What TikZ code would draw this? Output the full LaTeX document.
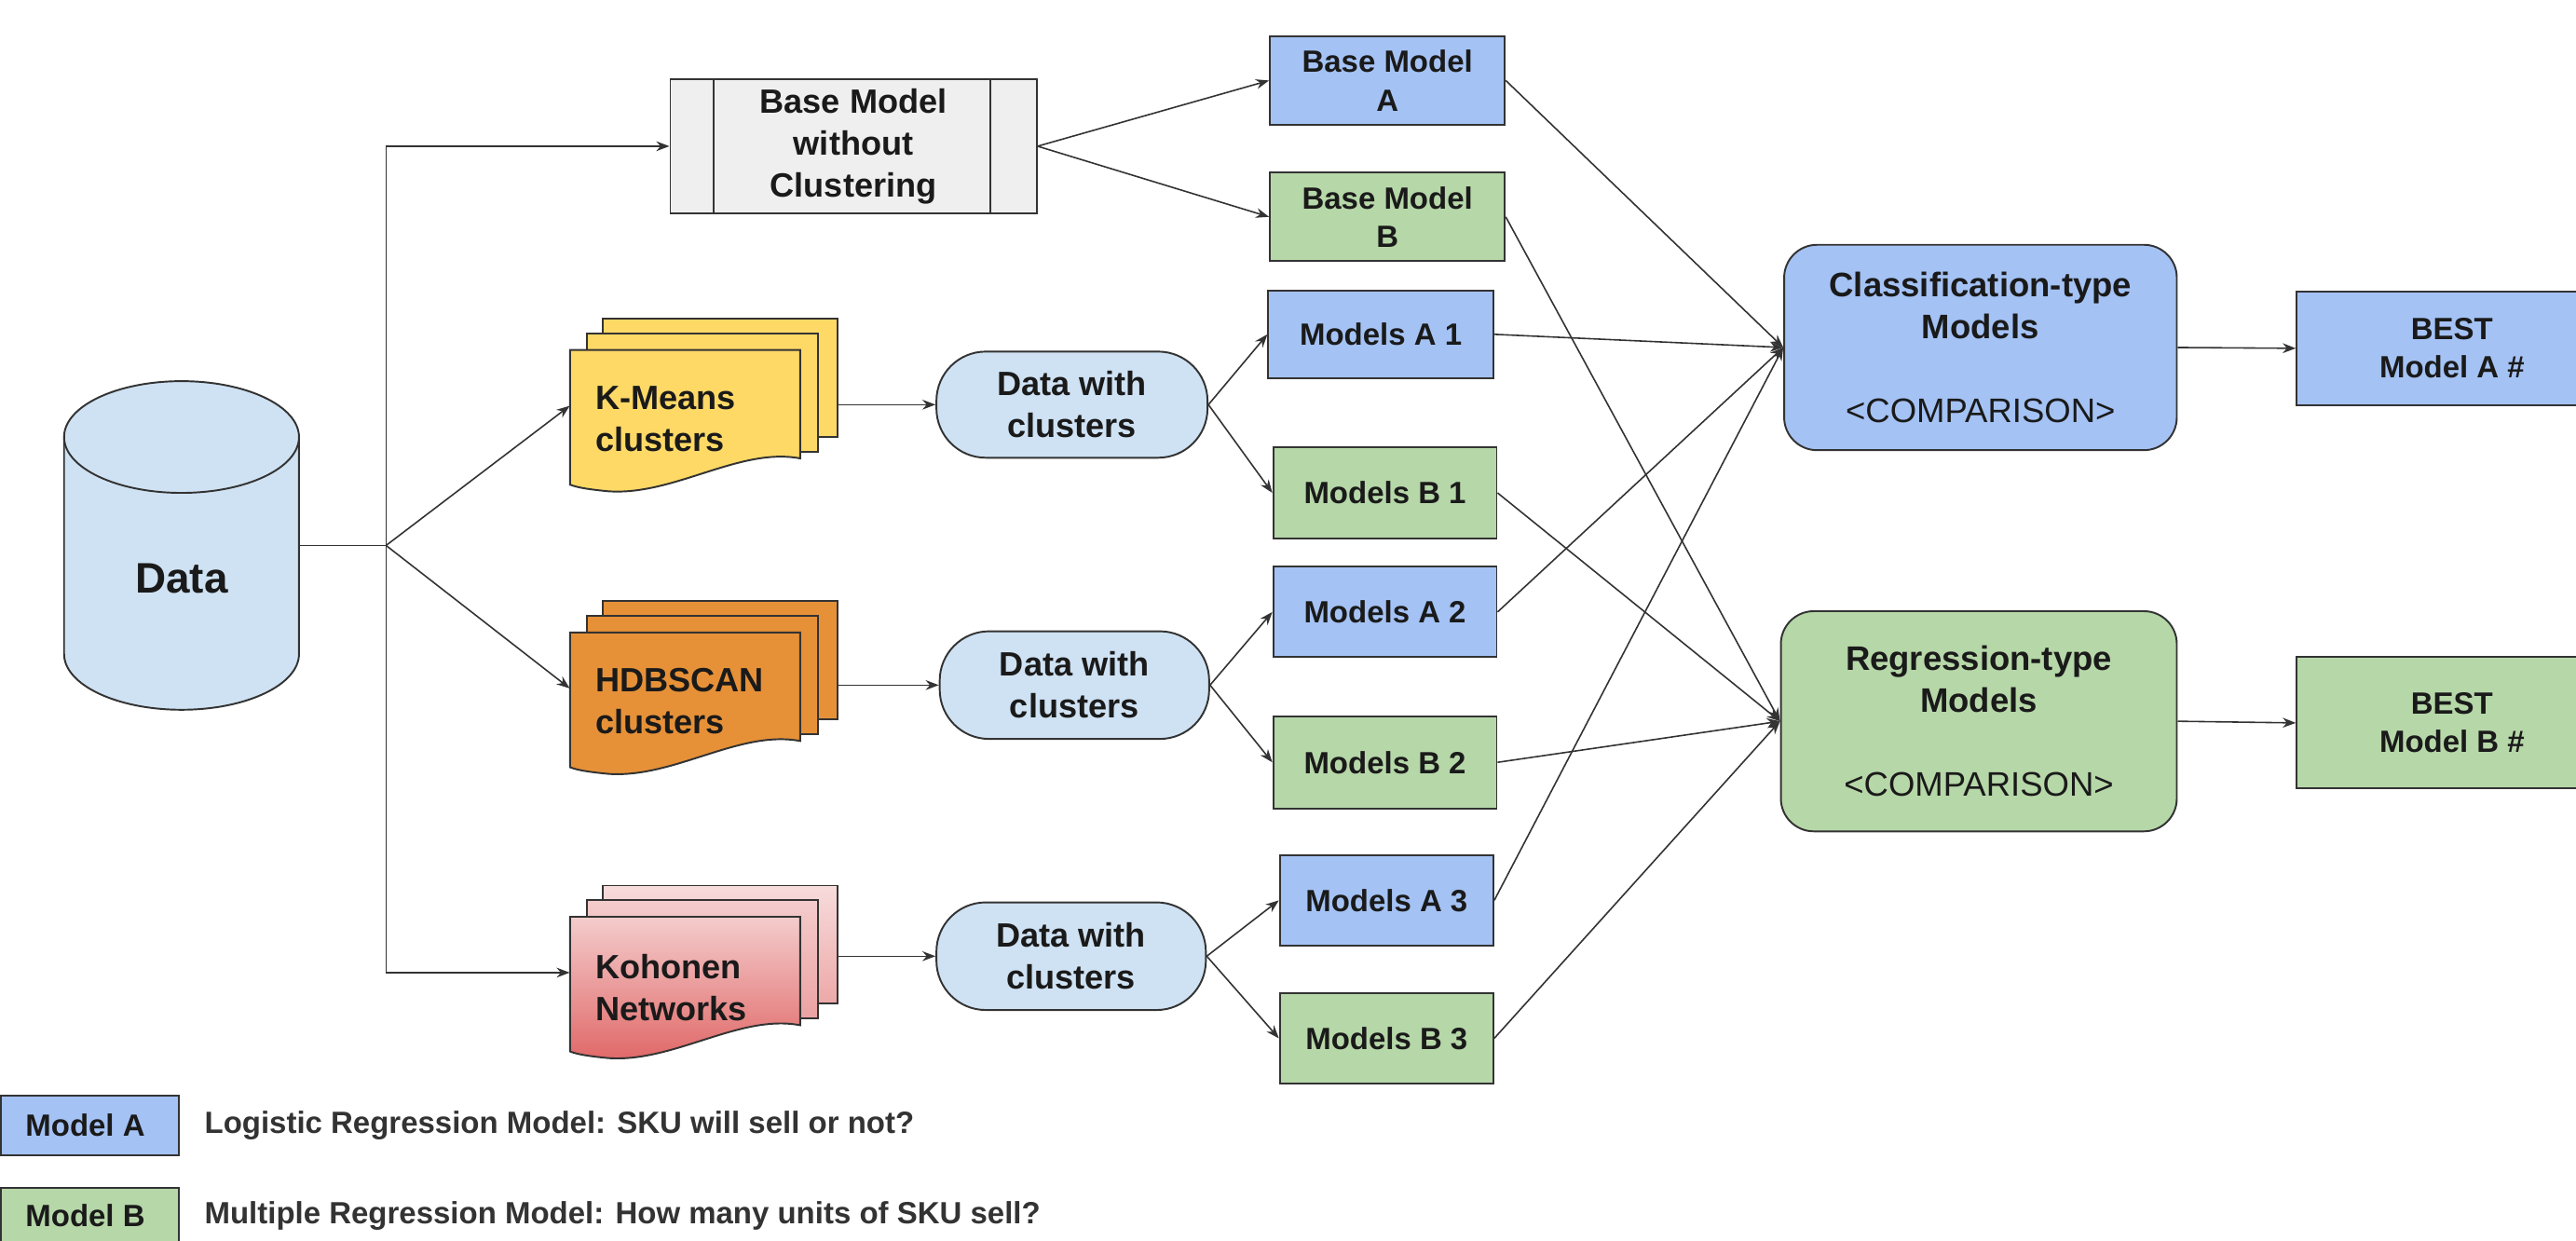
\documentclass[tikz,border=0pt]{standalone}
\usepackage{fontspec}
\setmainfont{Liberation Sans}
\usetikzlibrary{arrows.meta}
\definecolor{blueA}{HTML}{A4C2F4}
\definecolor{greenB}{HTML}{B6D7A8}
\definecolor{lblue}{HTML}{CFE2F3}
\definecolor{lgray}{HTML}{EFEFEF}
\definecolor{kmy}{HTML}{FFD966}
\definecolor{hdo}{HTML}{E69138}
\definecolor{kpt}{HTML}{F4CCCC}
\definecolor{kpm}{HTML}{EDA8A8}
\definecolor{kpb}{HTML}{E06666}
\definecolor{edgec}{HTML}{333333}
\definecolor{txt}{HTML}{1A1A1A}
\newcommand\docstack[4]{%
\begin{scope}[yshift=#1]
\draw[page,#2] (367,194) rectangle (510,266);
\draw[page,#3] (357,203) rectangle (498,275);
\draw[page,#4] (347,213) -- (487,213) -- (487,279) .. controls (450,272) and (410,302) .. (370,299) .. controls (360,298) and (352,297) .. (347,295) -- cycle;
\end{scope}}
\begin{document}
\begin{tikzpicture}[x=1pt,y=-1pt,
  bx/.style={draw=edgec, line width=1.1pt, align=center, inner sep=0pt, text=txt},
  fsm/.style={font=\bfseries\fontsize{18.7}{23.5}\selectfont},
  fmd/.style={font=\bfseries\fontsize{20.5}{25.5}\selectfont},
  mbox/.style={bx, fsm},
  arr/.style={draw=edgec, line width=0.9pt, -{Stealth[length=8pt,width=6pt]}},
  ln/.style={draw=edgec, line width=0.9pt},
  page/.style={draw=edgec, line width=1.1pt},
  ghost/.style={inner sep=0pt, draw=none},
]
\path[use as bounding box] (0,0) rectangle (1568,755);
\clip (0,0) rectangle (1568,755);
\fill[white] (0,0) rectangle (1568,755);

% Data cylinder
\draw[page, fill=lblue] (39,266) -- (39,398) arc[start angle=180, end angle=360, x radius=71.5pt, y radius=34pt] -- (182,266) -- cycle;
\draw[page, fill=lblue] (110.5,266) ellipse [x radius=71.5pt, y radius=34pt];
\node[ghost, minimum width=143pt, minimum height=200pt] (data) at (110.5,332) {};
\node[font=\bfseries\fontsize{26}{30}\selectfont, text=txt] (datatxt) at (110.5,352) {Data};

% Base model without clustering
\node[bx, fmd, fill=lgray, minimum width=223pt, minimum height=82pt] (basewo) at (519.5,89) {Base Model\\without\\Clustering};
\draw[page] ([xshift=27pt]basewo.north west) -- ([xshift=27pt]basewo.south west);
\draw[page] ([xshift=-29pt]basewo.north east) -- ([xshift=-29pt]basewo.south east);

% cluster stacks
\docstack{0pt}{fill=kmy}{fill=kmy}{fill=kmy}
\docstack{-172pt}{fill=hdo}{fill=hdo}{fill=hdo}
\docstack{-345pt}{top color=kpt!70!white, bottom color=kpm}{top color=kpt, bottom color=kpm!90!kpb}{top color=kpt, bottom color=kpb}
\node[ghost, minimum width=163pt, minimum height=106pt] (kmeans) at (428.5,247) {};
\node[ghost, minimum width=163pt, minimum height=106pt] (hdbscan) at (428.5,419) {};
\node[ghost, minimum width=163pt, minimum height=106pt] (kohonen) at (428.5,592) {};
\node[fmd, anchor=west, align=left, text=txt] (kmt) at (359,255) {K-Means\\clusters};
\node[fmd, anchor=west, align=left, text=txt] (hdt) at (359,427) {HDBSCAN\\clusters};
\node[fmd, anchor=west, align=left, text=txt] (kot) at (359,601) {Kohonen\\Networks};

% data with clusters
\node[bx, fmd, fill=lblue, rounded corners=30pt, minimum width=165pt, minimum height=64.6pt] (dwc1) at (652.5,246.3) {Data with\\clusters};
\node[bx, fmd, fill=lblue, rounded corners=30pt, minimum width=164pt, minimum height=65.5pt] (dwc2) at (654,417) {Data with\\clusters};
\node[bx, fmd, fill=lblue, rounded corners=30pt, minimum width=164pt, minimum height=65.5pt] (dwc3) at (652,582) {Data with\\clusters};

% model boxes
\node[mbox, fill=blueA, minimum width=143pt, minimum height=54pt] (baseA) at (844.5,49) {Base Model\\A};
\node[mbox, fill=greenB, minimum width=143pt, minimum height=54pt] (baseB) at (844.5,132) {Base Model\\B};
\node[mbox, fill=blueA, minimum width=137pt, minimum height=53pt] (a1) at (840.5,203.5) {Models A 1};
\node[mbox, fill=greenB, minimum width=136pt, minimum height=56pt] (b1) at (843,300) {Models B 1};
\node[mbox, fill=blueA, minimum width=136pt, minimum height=55pt] (a2) at (843,372.5) {Models A 2};
\node[mbox, fill=greenB, minimum width=136pt, minimum height=56pt] (b2) at (843,464) {Models B 2};
\node[mbox, fill=blueA, minimum width=130pt, minimum height=55pt] (a3) at (844,548) {Models A 3};
\node[mbox, fill=greenB, minimum width=130pt, minimum height=55pt] (b3) at (844,632) {Models B 3};

% comparison boxes
\node[bx, font=\bfseries\fontsize{20.7}{25.5}\selectfont, fill=blueA, rounded corners=20pt, minimum width=239pt, minimum height=125pt] (cls) at (1205.5,211.5) {Classification-type\\Models\\[25.5pt]{\mdseries <COMPARISON>}};
\node[bx, font=\bfseries\fontsize{20.7}{25.5}\selectfont, fill=greenB, rounded corners=20pt, minimum width=241pt, minimum height=134pt] (reg) at (1204.5,439) {Regression-type\\Models\\[25.5pt]{\mdseries <COMPARISON>}};

% best boxes
\node[mbox, fill=blueA, minimum width=189pt, minimum height=69.5pt] (bestA) at (1492.5,212) {BEST\\Model A \#};
\node[mbox, fill=greenB, minimum width=189pt, minimum height=80pt] (bestB) at (1492.5,440) {BEST\\Model B \#};

% connectors
\coordinate (jn) at (235,332);
\draw[ln] (data.east) -- (jn);
\draw[arr] (jn) |- (basewo.west);
\draw[arr] (jn) |- (kohonen.west);
\draw[arr] (jn) -- (kmeans.west);
\draw[arr] (jn) -- (hdbscan.west);
\draw[arr] (kmeans.east |- dwc1.west) -- (dwc1.west);
\draw[arr] (hdbscan.east |- dwc2.west) -- (dwc2.west);
\draw[arr] (kohonen.east |- dwc3.west) -- (dwc3.west);
\draw[arr] (basewo.east) -- (baseA.west);
\draw[arr] (basewo.east) -- (baseB.west);
\draw[arr] (dwc1.east) -- (a1.west);
\draw[arr] (dwc1.east) -- (b1.west);
\draw[arr] (dwc2.east) -- (a2.west);
\draw[arr] (dwc2.east) -- (b2.west);
\draw[arr] (dwc3.east) -- (a3.west);
\draw[arr] (dwc3.east) -- (b3.west);
\foreach \m in {baseA,a1,a2,a3} \draw[arr] (\m.east) -- (cls.west);
\foreach \m in {baseB,b1,b2,b3} \draw[arr] (\m.east) -- (reg.west);
\draw[arr] (cls.east) -- (bestA.west);
\draw[arr] (reg.east) -- (bestB.west);

% legend
\node[bx, fill=blueA, minimum width=108.5pt, minimum height=36pt] (legA) at (54.75,685) {};
\node[bx, fill=greenB, minimum width=108.5pt, minimum height=36pt] (legB) at (54.75,741) {};
\node[fsm, anchor=west, text=txt] (legAl) at (12,685) {Model A};
\node[fsm, anchor=west, text=txt] (legBl) at (12,740) {Model B};
\node[fsm, anchor=west, text=edgec] (legAd) at (121,685) {Logistic Regression Model: SKU will sell or not?};
\node[fsm, anchor=west, text=edgec] (legBd) at (121,740) {Multiple Regression Model: How many units of SKU sell?};
\end{tikzpicture}
\end{document}
